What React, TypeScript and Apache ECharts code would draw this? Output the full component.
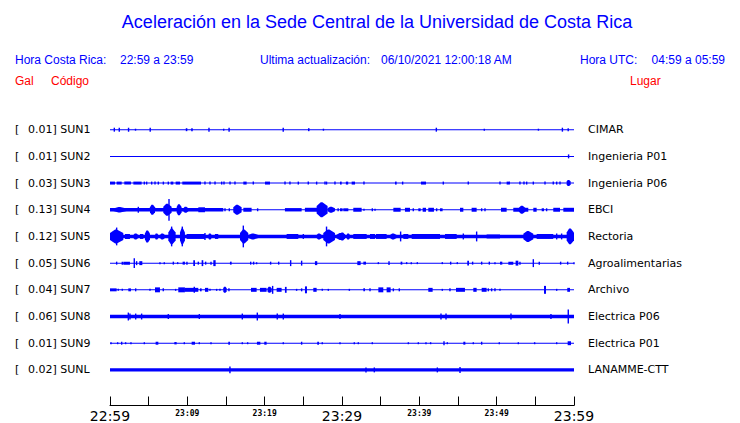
import React, { useEffect, useRef } from 'react';
import * as echarts from 'echarts';

type Ev = [number, number, number]; // [start minute, end minute, half amplitude]

const TIME_LABELS = ['22:59', '23:09', '23:19', '23:29', '23:39', '23:49', '23:59'];
const GAL = ['0.01', '0.01', '0.03', '0.13', '0.12', '0.05', '0.04', '0.06', '0.01', '0.02'];
const CODES = ['SUN1', 'SUN2', 'SUN3', 'SUN4', 'SUN5', 'SUN6', 'SUN7', 'SUN8', 'SUN9', 'SUNL'];
const PLACES = ['CIMAR', 'Ingenieria P01', 'Ingenieria P06', 'EBCI', 'Rectoria', 'Agroalimentarias', 'Archivo', 'Electrica P06', 'Electrica P01', 'LANAMME-CTT'];
const BASE_AMP = [0.5, 0.5, 0.5, 0.5, 1.7, 0.5, 0.5, 1.7, 0.5, 1.7];

const SUN1_EV: Ev[] = [
  [0.56, 0.56, 2], [1.2, 1.2, 2], [2.4, 2.4, 2], [3.3, 3.3, 1], [5.2, 5.2, 2], [9.8, 10.0, 1.5],
  [10.5, 10.7, 1.5], [12.8, 12.8, 2], [14.7, 14.7, 1], [15.4, 15.4, 2], [22.4, 22.4, 2], [25.6, 25.8, 1.5],
  [27.6, 27.6, 1], [42.2, 42.2, 2], [48.4, 48.4, 1], [55.4, 55.4, 1], [58.5, 58.5, 2], [59.2, 59.3, 1.5],
];
const SUN2_EV: Ev[] = [[59.3, 59.3, 2]];
const SUN3_EV: Ev[] = [
  [0.0, 0.65, 1.5], [0.86, 1.51, 1.5], [1.85, 2.71, 1.5], [3.02, 4.09, 1.5], [4.44, 4.44, 1.5], [4.74, 4.74, 1.5],
  [5.39, 5.39, 1.5], [5.82, 5.82, 1.5], [6.25, 6.25, 1.5], [6.9, 6.9, 1.5], [7.54, 7.54, 1.5], [7.84, 8.19, 1.5],
  [8.49, 9.05, 1.5], [9.35, 11.77, 1.5], [12.28, 12.28, 1.5], [12.93, 12.93, 1.5], [13.58, 13.58, 1.5],
  [14.44, 14.44, 1.5], [14.74, 14.74, 1.5], [15.52, 15.52, 1.5], [16.16, 16.16, 1.5], [17.24, 17.67, 1.5],
  [18.53, 18.53, 1.5], [20.04, 20.69, 1.5], [22.63, 22.63, 1.5], [23.27, 23.27, 1.5], [24.35, 24.35, 1.5],
  [25.64, 25.64, 1.5], [26.72, 26.72, 1.5], [27.8, 27.8, 1.5], [28.0, 28.0, 1.5], [29.09, 29.09, 1.5],
  [29.74, 29.96, 1.5], [30.5, 30.8, 1.5], [31.25, 31.68, 1.5], [32.84, 32.84, 1.5], [36.85, 37.07, 1.5],
  [37.84, 37.84, 1.5], [40.21, 40.86, 1.5], [43.1, 43.1, 1.5], [46.33, 46.33, 1.5], [50.43, 50.43, 1.5],
  [51.29, 51.72, 1.5], [53.01, 53.01, 1.5], [53.53, 53.53, 1.5], [53.88, 53.88, 1.5], [54.74, 54.74, 1.5],
  [56.25, 56.25, 1.5], [57.32, 57.32, 1.5], [57.76, 57.76, 1.5], [58.19, 58.19, 1.5], [59.05, 59.57, 3],
];
const SUN4_EV: Ev[] = [
  [0.0, 14.65, 1.7], [0.43, 2.15, 2.7], [3.66, 3.66, 3], [5.17, 5.82, 5], [6.89, 7.97, 6], [7.63, 7.63, 11],
  [8.62, 9.26, 5.5], [9.48, 10.13, 3], [11.42, 12.28, 2.5], [14.87, 14.87, 1.5], [15.43, 15.43, 1.5],
  [15.94, 17.02, 5], [17.24, 18.31, 2], [19.09, 19.09, 1.5], [22.62, 24.78, 1.7], [25.2, 26.9, 2],
  [26.72, 28.14, 7.5], [28.14, 29.09, 3], [29.5, 29.5, 1.5], [30.17, 30.38, 1.5],
  [29.74, 30.08, 1.5], [30.39, 30.82, 1.5], [31.46, 32.54, 2], [32.84, 32.84, 1], [33.92, 33.92, 1.5],
  [34.27, 34.27, 1], [36.64, 37.58, 2], [38.14, 38.79, 2], [39.22, 39.22, 1.5], [39.87, 40.17, 1.5],
  [40.43, 40.86, 2], [41.16, 41.89, 2], [42.24, 42.24, 1.5], [42.67, 43.01, 1.5], [45.26, 45.69, 2],
  [46.76, 47.41, 2], [48.06, 48.06, 1.5], [48.49, 48.49, 1.5], [50.56, 51.29, 2], [52.15, 53.23, 2],
  [52.88, 53.7, 4], [53.66, 54.09, 2], [54.74, 55.17, 2], [55.82, 56.12, 1.5], [56.46, 56.46, 1.5],
  [57.32, 58.19, 2], [58.62, 60.0, 2],
];
const SUN5_EV: Ev[] = [
  [0.0, 1.72, 7], [0.86, 0.86, 9], [1.94, 2.58, 2.5], [3.02, 3.66, 3], [3.88, 4.31, 2.5], [4.52, 5.17, 6],
  [5.82, 6.25, 3], [6.46, 7.11, 3], [7.54, 8.49, 8], [7.97, 7.97, 10], [9.05, 9.69, 8], [9.35, 9.35, 10],
  [9.91, 12.28, 2.5], [12.28, 12.28, 3.5], [12.71, 13.14, 3], [13.57, 14.0, 2.5], [16.81, 17.88, 7],
  [17.24, 17.24, 11], [17.88, 19.18, 3], [22.84, 24.35, 2.5], [25.0, 25.0, 2.5], [26.72, 27.37, 3],
  [27.58, 29.09, 7], [28.0, 28.0, 10], [29.3, 30.38, 3.5],
  [29.74, 30.39, 4], [30.6, 31.03, 3], [31.46, 33.19, 2.5], [33.62, 34.27, 2.5], [34.39, 35.77, 2.5],
  [36.2, 37.07, 3], [37.58, 37.58, 5], [37.93, 38.58, 2.5], [39.01, 42.67, 2.5], [43.32, 44.83, 2.5],
  [45.69, 45.69, 3], [47.41, 47.41, 5], [48.7, 50.43, 2], [53.45, 54.74, 5.5], [55.17, 57.32, 2.5],
  [57.76, 57.76, 3], [58.4, 58.4, 3], [59.05, 60.0, 8],
];
const SUN6_EV: Ev[] = [
  [0.86, 0.86, 1.5], [1.59, 1.59, 1.5], [1.72, 2.58, 1.5], [3.14, 3.14, 5], [3.44, 3.44, 2], [3.79, 4.18, 2],
  [6.46, 6.46, 1], [7.02, 7.02, 1], [8.19, 8.19, 1.5], [8.75, 8.75, 1], [9.39, 9.69, 1.5], [9.95, 9.95, 1.5],
  [10.77, 10.99, 3], [11.42, 11.42, 1.5], [11.85, 12.06, 3], [12.37, 12.37, 1.5], [13.06, 13.06, 1.5],
  [13.36, 13.66, 3], [15.51, 15.73, 1.5], [18.19, 18.19, 1.5], [18.57, 18.57, 1.5], [18.96, 18.96, 1],
  [20.77, 20.77, 1.5], [21.81, 21.81, 1.5], [23.36, 23.36, 3], [24.69, 24.87, 2.5], [26.5, 26.8, 2],
  [31.98, 32.41, 2], [32.76, 33.1, 1.5], [34.7, 34.7, 1], [36.08, 36.08, 2], [37.58, 37.8, 1.5],
  [38.36, 38.36, 1], [38.96, 38.96, 1], [39.74, 39.74, 1], [42.97, 42.97, 1], [44.05, 44.05, 1.5],
  [44.91, 44.91, 1], [46.2, 46.42, 2.5], [46.89, 46.89, 1.5], [48.06, 48.06, 1.5], [49.05, 49.05, 1.5],
  [49.78, 49.78, 1], [50.43, 50.73, 1.5], [51.51, 52.15, 1.5], [52.45, 52.8, 2.5], [53.01, 53.01, 1.5],
  [54.74, 54.74, 4], [55.51, 55.51, 1.5], [58.27, 58.27, 1.5], [59.18, 59.18, 1.5], [60.0, 60.0, 1],
];
const SUN7_EV: Ev[] = [
  [0.0, 0.86, 1.5], [1.07, 1.07, 1], [1.59, 1.59, 1], [2.37, 2.71, 1.5], [3.32, 3.32, 1.5], [5.17, 5.17, 1],
  [5.82, 6.46, 2.5], [6.89, 6.89, 1.5], [8.49, 8.49, 1], [8.83, 9.69, 2.5], [9.69, 11.42, 2], [10.9, 10.9, 3],
  [11.63, 11.85, 1.5], [12.28, 12.71, 2], [12.93, 12.93, 1], [13.79, 13.79, 1], [14.22, 14.22, 1],
  [14.65, 15.08, 3], [15.38, 15.38, 1.5], [18.23, 18.96, 2], [19.39, 20.25, 2], [20.38, 20.9, 3],
  [21.03, 21.03, 4], [21.55, 22.19, 2], [22.62, 22.84, 3], [24.13, 24.13, 1], [24.78, 24.78, 1.5],
  [25.21, 25.47, 3.5], [26.29, 26.72, 2], [27.45, 27.45, 1], [28.23, 28.23, 1],
  [30.95, 30.95, 1], [32.76, 32.97, 1.5], [33.62, 33.62, 1.5], [34.7, 35.34, 2.5], [35.77, 36.29, 2.5],
  [36.64, 36.64, 1.5], [37.41, 37.41, 1.5], [41.16, 41.72, 2], [42.97, 42.97, 1], [43.96, 43.96, 1.5],
  [44.74, 45.9, 2], [46.98, 47.41, 2], [48.06, 48.7, 2], [48.92, 48.92, 1.5], [49.35, 49.35, 1.5],
  [49.78, 49.78, 1.5], [50.43, 50.43, 1], [56.12, 56.38, 4], [57.76, 57.76, 1], [59.13, 59.48, 2],
];
const SUN8_EV: Ev[] = [
  [2.37, 2.37, 4], [2.58, 2.58, 3], [3.32, 3.32, 3], [4.09, 4.09, 3], [7.54, 7.54, 2.5], [11.55, 11.55, 2.5],
  [17.11, 17.11, 3], [19.05, 19.05, 4], [21.63, 21.63, 3], [22.41, 22.41, 3], [29.74, 29.74, 2.5],
  [42.8, 42.8, 3], [43.45, 43.45, 3], [51.85, 51.85, 3], [57.02, 57.02, 2.5], [59.26, 59.26, 7],
];
const SUN9_EV: Ev[] = [
  [0.13, 0.13, 1], [0.99, 0.99, 1], [1.51, 1.51, 1.5], [2.02, 2.02, 1], [2.71, 2.71, 1], [4.44, 4.44, 1],
  [5.9, 6.25, 1.5], [8.32, 8.62, 1.2], [9.61, 9.61, 1], [10.56, 10.99, 1.5], [11.55, 11.55, 1],
  [13.06, 13.06, 1], [15.3, 15.51, 1.5], [17.11, 17.11, 1], [17.8, 17.8, 1], [19.0, 19.44, 1.5],
  [19.95, 20.25, 1.5], [22.41, 22.41, 1], [24.78, 24.78, 1.5], [26.8, 27.02, 1.5], [27.45, 27.45, 1],
  [29.74, 29.74, 1], [31.59, 31.59, 1], [32.11, 32.11, 1], [33.92, 33.92, 1], [38.58, 38.58, 1],
  [39.87, 39.87, 1], [40.86, 40.86, 1], [41.46, 41.46, 1], [43.19, 43.19, 2], [43.62, 43.62, 1],
  [45.69, 45.95, 1.5], [46.98, 46.98, 1], [48.06, 48.06, 1.5], [50.34, 50.34, 1], [52.8, 52.8, 1],
  [54.91, 54.91, 1], [57.76, 57.76, 1], [59.18, 59.61, 2],
];
const SUNL_EV: Ev[] = [
  [15.51, 15.51, 3.5], [33.1, 33.1, 2.5], [34.18, 34.18, 2.5], [42.33, 42.33, 2.5], [45.26, 45.26, 3],
];

const EVENTS: Ev[][] = [SUN1_EV, SUN2_EV, SUN3_EV, SUN4_EV, SUN5_EV, SUN6_EV, SUN7_EV, SUN8_EV, SUN9_EV, SUNL_EV];

const BLUE = '#0000ff';
const RED = '#ff0000';
const HEAD_FONT = '12px "Liberation Sans", Arial, sans-serif';
const AMP_UNIT = 1 / 27;

export default function App() {
  const ref = useRef<HTMLDivElement>(null);
  useEffect(() => {
    if (!ref.current) return;
    const chart = echarts.init(ref.current, null, { renderer: 'svg' });
    const data: number[][] = [];
    CODES.forEach((_, i) => {
      data.push([i, 0, 60, BASE_AMP[i]]);
      EVENTS[i].forEach(([s, e, a]) => data.push([i, s, e, a]));
    });
    const yBase = {
      type: 'value',
      min: -1,
      max: 31 / 3,
      interval: 1,
      inverse: true,
      axisLine: { show: false },
      axisTick: { show: false },
      splitLine: { show: false },
    };
    const txt = (x: number, y: number, text: string, fill: string, font: string, align = 'left') => ({
      type: 'text',
      x,
      y,
      style: { text, fill, font, textAlign: align, textVerticalAlign: 'middle' },
    });
    chart.setOption({
      animation: false,
      backgroundColor: '#ffffff',
      grid: { left: 110, right: 166, top: 103, height: 306 },
      xAxis: {
        type: 'value',
        min: 0,
        max: 60,
        interval: 5,
        axisLine: { show: true, onZero: false, lineStyle: { color: '#000', width: 1 } },
        axisTick: { show: true, inside: true, length: 9, lineStyle: { color: '#000' } },
        splitLine: { show: false },
        axisLabel: {
          margin: 3,
          showMinLabel: true,
          showMaxLabel: true,
          formatter: (v: number) => {
            if (v % 10 !== 0) return '';
            const t = TIME_LABELS[v / 10];
            return v % 30 === 0 ? `{big|${t}}` : `{small|${t}}`;
          },
          rich: {
            big: { fontSize: 14, lineHeight: 15, fontFamily: '"DejaVu Sans", sans-serif', color: '#000' },
            small: { fontSize: 8, lineHeight: 10, fontFamily: '"DejaVu Sans Mono", monospace', fontWeight: 'bold', color: '#000' },
          },
        },
      },
      yAxis: [
        {
          ...yBase,
          position: 'left',
          axisLabel: {
            align: 'left',
            margin: 95,
            formatter: (v: number) => (Number.isInteger(v) && v >= 0 && v <= 9 ? `{br|[}{t|${GAL[v]}] ${CODES[v]}}` : ''),
            rich: {
              br: { width: 13, fontSize: 11, fontFamily: '"DejaVu Sans", sans-serif', color: '#000' },
              t: { fontSize: 11, fontFamily: '"DejaVu Sans", sans-serif', color: '#000' },
            },
          },
        },
        {
          ...yBase,
          position: 'right',
          axisLabel: {
            margin: 14,
            fontSize: 11,
            fontFamily: '"DejaVu Sans", sans-serif',
            color: '#000',
            formatter: (v: number) => (Number.isInteger(v) && v >= 0 && v <= 9 ? PLACES[v] : ''),
          },
        },
      ],
      series: [
        {
          type: 'custom',
          xAxisIndex: 0,
          yAxisIndex: 0,
          clip: false,
          encode: { x: [1, 2], y: 0 },
          data,
          renderItem: (params: any, api: any) => {
            const row = api.value(0);
            const s = api.value(1);
            const e = api.value(2);
            const a = api.value(3);
            const p1 = api.coord([s, row]);
            const p2 = api.coord([e, row]);
            const half = Math.max(Math.abs(api.size([0, a * AMP_UNIT])[1]), 0.5);
            const cy = p1[1];
            let x = p1[0];
            let w = p2[0] - p1[0];
            if (w < 1.4) {
              x = (p1[0] + p2[0]) / 2 - 0.7;
              w = 1.4;
            }
            if (a > 2.6 && w > 3) {
              // burst envelope: broad body with a pointed crest
              const lo = half * 0.5;
              const x1 = x;
              const x2 = x + w;
              const m = x1 + w * 0.45;
              return {
                type: 'polygon',
                shape: {
                  points: [
                    [x1, cy - lo], [m - 0.8, cy - half], [m + 0.8, cy - half], [x2, cy - lo],
                    [x2, cy + lo], [m + 0.8, cy + half], [m - 0.8, cy + half], [x1, cy + lo],
                  ],
                },
                style: { fill: BLUE },
              };
            }
            return {
              type: 'rect',
              shape: { x, y: cy - half, width: w, height: half * 2 },
              style: { fill: BLUE },
            };
          },
        },
      ],
      graphic: [
        txt(377, 22, 'Aceleración en la Sede Central de la Universidad de Costa Rica', BLUE, '18px "Liberation Sans", Arial, sans-serif', 'center'),
        txt(15, 60, 'Hora Costa Rica:', BLUE, HEAD_FONT),
        txt(120, 60, '22:59 a 23:59', BLUE, HEAD_FONT),
        txt(260, 60, 'Ultima actualización:', BLUE, HEAD_FONT),
        txt(381, 60, '06/10/2021 12:00:18 AM', BLUE, HEAD_FONT),
        txt(580, 60, 'Hora UTC:', BLUE, HEAD_FONT),
        txt(725, 60, '04:59 a 05:59', BLUE, HEAD_FONT, 'right'),
        txt(15, 81, 'Gal', RED, HEAD_FONT),
        txt(51, 81, 'Código', RED, HEAD_FONT),
        txt(630, 81, 'Lugar', RED, HEAD_FONT),
      ],
    });
    return () => chart.dispose();
  }, []);
  return (
    <div
      ref={ref}
      style={{ position: 'fixed', left: 0, top: 0, width: 740, height: 423, background: '#fff' }}
    />
  );
}
